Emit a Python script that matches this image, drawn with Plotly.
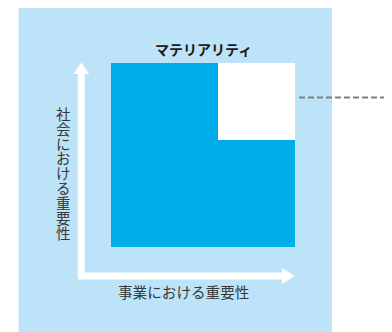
import plotly.graph_objects as go

# ---- data ----
business_edges = [0.0, 0.58, 1.0]   # 事業における重要性 (x) bin edges
social_edges = [0.0, 0.58, 1.0]     # 社会における重要性 (y) bin edges
zone = [[0, 0], [0, 1]]             # 1 = materiality zone (top-right)
title_text = "マテリアリティ"
x_label = "事業における重要性"
y_label = "社会における重要性"

BLUE = "#00adeb"
BG = "#bde3f8"
TXT = "#383838"
FONT = "Noto Sans CJK JP"

OFF = 8  # page body margin
W, H = 392 - OFF, 332 - OFF
L, T = 111 - OFF, 63 - OFF
R, B = W - (295 - OFF), H - (247 - OFF)
PW, PH = W - L - R, H - T - B

def PX(x):
    return (x - OFF - L) / PW

def PY(y):
    return (H - B - (y - OFF)) / PH

fig = go.Figure(go.Heatmap(
    x=business_edges, y=social_edges, z=zone,
    colorscale=[[0, BLUE], [1, "#ffffff"]], zmin=0, zmax=1,
    showscale=False, hoverinfo="skip", xgap=0, ygap=0,
))

shapes = []
# light-blue panel
shapes.append(dict(type="rect", xref="paper", yref="paper",
                   x0=PX(18.5), x1=PX(332), y0=PY(345), y1=PY(6.7),
                   fillcolor=BG, line=dict(width=0), layer="below"))
# L-shaped arrows
pts = [(77.7, 279.5), (77.7, 74), (73.2, 74), (81.2, 62.5), (89.2, 74), (84.7, 74),
       (84.7, 272.5), (282, 272.5), (282, 268), (294.5, 276), (282, 284), (282, 279.5)]
path = "M " + " L ".join(f"{PX(a):.5f},{PY(b):.5f}" for a, b in pts) + " Z"
shapes.append(dict(type="path", xref="paper", yref="paper", path=path,
                   fillcolor="#ffffff", line=dict(width=0), layer="above"))
# dashed leader line
shapes.append(dict(type="line", xref="paper", yref="paper",
                   x0=PX(299), x1=PX(400), y0=PY(97.5), y1=PY(97.5),
                   line=dict(color="#808080", width=2, dash="6px,3px")))

# vertical label: one text, line pitch from base font, glyphs enlarged via span
vtext = "<br>".join(f'<span style="font-size:14.5px">{ch}</span>' for ch in y_label)

annotations = [
    dict(text=f"<b>{title_text}</b>", xref="paper", yref="paper", x=PX(203.3), y=PY(49),
         showarrow=False, font=dict(family=FONT, size=14, color="#231815"),
         xanchor="center", yanchor="middle"),
    dict(text=x_label, xref="paper", yref="paper", x=PX(183.4), y=PY(291.5),
         showarrow=False, font=dict(family=FONT, size=14.6, color=TXT),
         xanchor="center", yanchor="middle"),
    dict(text=vtext, xref="paper", yref="paper", x=PX(63), y=PY(173),
         showarrow=False, font=dict(family=FONT, size=11.4, color=TXT),
         align="center", xanchor="center", yanchor="middle"),
]

fig.update_layout(
    width=W, height=H, margin=dict(l=L, r=R, t=T, b=B, pad=0),
    paper_bgcolor="#ffffff", plot_bgcolor="rgba(0,0,0,0)",
    xaxis=dict(range=[0, 1], visible=False, fixedrange=True),
    yaxis=dict(range=[0, 1], visible=False, fixedrange=True),
    shapes=shapes, annotations=annotations, showlegend=False,
)
fig.write_html("out.html", config={"displayModeBar": False})
